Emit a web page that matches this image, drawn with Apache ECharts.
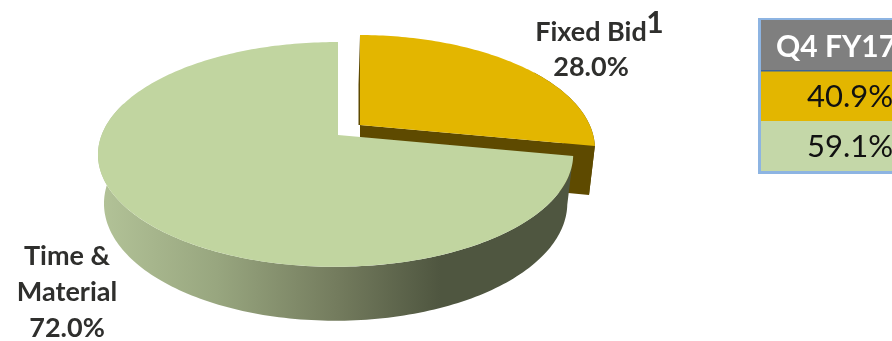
<!DOCTYPE html>
<html>
<head>
<meta charset="utf-8">
<style>html,body{margin:0;padding:0;background:#fff;overflow:hidden}#c{width:892px;height:341px}</style>
<script src="https://cdn.jsdelivr.net/npm/echarts@6/dist/echarts.min.js"></script>
</head>
<body>
<div id="c"></div>
<script>
// Contract mix shown as a tilted, exploded pie with a small comparison table.
const sliceNames = ['Fixed Bid', 'Time &\nMaterial'];
const sliceValues = [28.0, 72.0];
const tableHeader = 'Q4 FY17';
const tableValues = [40.9, 59.1];

const topColors = ['#e3b600', '#c1d5a0'];
const inkColor = '#2f2f2d';
const fontFamily = 'Lato, "Open Sans", sans-serif';

// Tilt and perspective of the disc, per slice: the pulled-out one sits further back
const views = [
  { apex: [360, 125], a: 232, b: 109, p: 0.211, q: 0.01 },
  { apex: [338, 135], a: 234, b: 109, p: 0.173, q: 0.01 }
];
const extrude = { depth: 48, shrinkA: 0.975, growB: 4.9 };

// Projects a polar position on the disc; level 0 is the top face, 1 the bottom face.
function project(view, theta, r, level) {
  const u = r * Math.sin(theta);
  const w = r * Math.cos(theta);
  const s = 1 / (1 + view.p * w + view.q * u);
  const a = level ? view.a * extrude.shrinkA : view.a;
  const b = level ? view.b + extrude.growB : view.b;
  return [view.apex[0] + a * u * s, view.apex[1] + (level ? extrude.depth : 0) - b * w * s];
}

function arcPoints(view, from, to, level) {
  const pts = [];
  const steps = Math.max(2, Math.ceil(Math.abs(to - from) / 0.02));
  for (let i = 0; i <= steps; i++) {
    pts.push(project(view, from + (to - from) * i / steps, 1, level));
  }
  return pts;
}

const total = sliceValues.reduce((sum, v) => sum + v, 0);
const sweeps = [];
sliceValues.reduce((acc, v) => {
  const next = acc + v / total * Math.PI * 2;
  sweeps.push([acc, next]);
  return next;
}, 0);

const greenSide = {
  type: 'linear', x: 0, y: 0, x2: 1, y2: 0,
  colorStops: [
    { offset: 0, color: '#b3c398' },
    { offset: 0.25, color: '#98a67f' },
    { offset: 0.5, color: '#747c5e' },
    { offset: 0.72, color: '#4f5640' },
    { offset: 1, color: '#4f5640' }
  ]
};

function renderSlice(params) {
  const i = params.dataIndex;
  const view = views[i];
  const from = sweeps[i][0];
  const to = sweeps[i][1];
  const children = [];
  if (i === 0) {
    // Cut face along the trailing edge and the rim of the pulled-out slice
    const inner = project(view, to, 0, 0);
    const innerLow = project(view, to, 0, 1);
    const rim = arcPoints(view, from + 1.0, to, 0);
    const rimLow = arcPoints(view, from + 1.0, to, 1).reverse();
    children.push({ type: 'polygon', shape: { points: rim.concat(rimLow) }, style: { fill: '#5e4a00' } });
    children.push({ type: 'polygon', shape: { points: [inner, project(view, to, 1, 0), project(view, to, 1, 1), innerLow] }, style: { fill: '#5e4a00' } });
    children.push({ type: 'polygon', shape: { points: [inner, project(view, from, 1, 0), [view.apex[0] - 1.5, view.apex[1] - 40], [view.apex[0] - 1.5, view.apex[1]]] }, style: { fill: '#5e4a00' } });
  } else {
    const sideEnd = from + (to - from) * 0.72;
    const rim = arcPoints(view, from, sideEnd, 0);
    const rimLow = arcPoints(view, from, sideEnd, 1).reverse();
    children.push({ type: 'polygon', shape: { points: rim.concat(rimLow) }, style: { fill: greenSide } });
  }
  const face = [project(view, 0, 0, 0)].concat(arcPoints(view, from, to, 0));
  children.push({ type: 'polygon', shape: { points: face }, style: { fill: topColors[i] } });
  return { type: 'group', children };
}

const pct = v => v.toFixed(1) + '%';
const labelFont = { fontFamily, fontWeight: 700, fontSize: 27, fill: inkColor, textAlign: 'center', textVerticalAlign: 'middle' };

function textAt(x, y, text, extra) {
  return { type: 'text', x, y, silent: true, style: Object.assign({ text }, labelFont, extra || {}) };
}

function tableGraphics() {
  const left = 758, top = 18, width = 140, border = 3;
  const rowTops = [20, 71, 121];
  const rowBottoms = [71, 121, 171];
  const fills = ['#7f7f7f', topColors[0], '#c4d7a8'];
  const items = [
    { type: 'rect', shape: { x: left, y: top, width, height: 156 }, style: { fill: '#8db4e2' } }
  ];
  rowTops.forEach((y, i) => {
    items.push({ type: 'rect', shape: { x: left + border, y, width, height: rowBottoms[i] - y }, style: { fill: fills[i] } });
  });
  items.push({ type: 'rect', shape: { x: left + border, y: 70, width, height: 1.5 }, style: { fill: '#3c6497' } });
  items.push(textAt(776, 47, tableHeader, { fill: '#ffffff', fontSize: 30, textAlign: 'left' }));
  tableValues.forEach((v, i) => {
    items.push(textAt(807, 97 + i * 50, pct(v), { fill: '#111111', fontWeight: 400, fontSize: 31, textAlign: 'left' }));
  });
  return items;
}

const chart = echarts.init(document.getElementById('c'), null, { renderer: 'canvas' });
chart.setOption({
  animation: false,
  backgroundColor: '#ffffff',
  series: [{
    type: 'custom',
    coordinateSystem: 'none',
    silent: true,
    data: sliceValues,
    renderItem: renderSlice
  }],
  graphic: [
    textAt(591, 32, sliceNames[0]),
    textAt(655, 23, '1', { fontSize: 30 }),
    textAt(591, 67, pct(sliceValues[0])),
    textAt(67, 274, sliceNames[1], { lineHeight: 36 }),
    textAt(67, 328, pct(sliceValues[1]))
  ].concat(tableGraphics())
});
</script>
</body>
</html>
